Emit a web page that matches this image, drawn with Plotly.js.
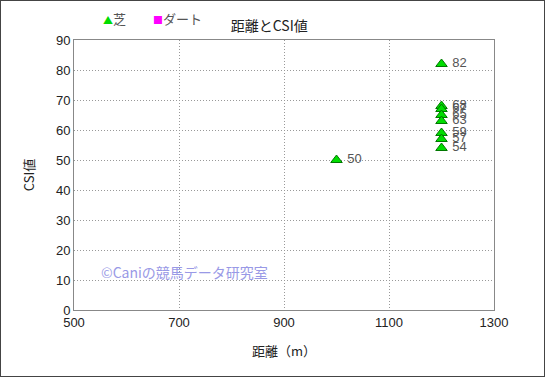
<!DOCTYPE html>
<html><head><meta charset="utf-8">
<script src="https://cdn.plot.ly/plotly-3.0.1.min.js"></script>
<style>html,body{margin:0;padding:0;background:#fff;}#c{width:545px;height:377px;box-sizing:border-box;border:1px solid #444;}</style>
</head><body><div id="c"></div>
<script>
const turfDist = [1000, 1200, 1200, 1200, 1200, 1200, 1200, 1200, 1200];
const turfCSI = [50, 82, 68, 67, 65, 63, 59, 57, 54];
const dirtDist = [null];
const dirtCSI = [null];
const xTicks = [500, 700, 900, 1100, 1300];
const yTicks = [0, 10, 20, 30, 40, 50, 60, 70, 80, 90];
const F = '"Liberation Sans", "Noto Sans CJK JP", sans-serif';
const FJ = '"Noto Sans CJK JP", "Noto Sans", sans-serif';
const traces = [
 {x: turfDist, y: turfCSI, type:'scatter', mode:'markers+text', name:'芝',
  text: turfCSI.map(v => ' ' + v), textposition:'middle right', textfont:{family:F,size:13,color:'#555'},
  marker:{symbol:'triangle-up', size:10, color:'#00dd00', line:{color:'#007700', width:1}}},
 {x: dirtDist, y: dirtCSI, type:'scatter', mode:'markers', name:'ダート',
  marker:{symbol:'square', size:8, color:'#ff00ff'}}
];
const layout = {
 width:543, height:375,
 margin:{l:73, r:50, t:39, b:66},
 paper_bgcolor:'#fff', plot_bgcolor:'#fff',
 font:{family:F, size:12, color:'#222'},
 title:{text:'距離とCSI値', x:0.494, xanchor:'center', xref:'container', y:0.934, yanchor:'middle', yref:'container', font:{family:FJ,size:14,color:'#222'}},
 showlegend:false,
 xaxis:{range:[500,1300], tickvals:xTicks, ticks:'', showgrid:true, gridcolor:'#999', griddash:'1px,2px', gridwidth:1,
  showline:true, linecolor:'#888', mirror:true, zeroline:false, tickfont:{family:F,size:13,color:'#222'},
  title:{text:'距離（m）', font:{family:FJ,size:13,color:'#222'}, standoff:18}},
 yaxis:{range:[0,90], tickvals:yTicks, ticks:'', showgrid:true, gridcolor:'#999', griddash:'1px,2px', gridwidth:1,
  showline:true, linecolor:'#888', mirror:true, zeroline:false, tickfont:{family:F,size:13,color:'#222'},
  title:{text:'CSI値', font:{family:FJ,size:13,color:'#222'}, standoff:18}},
 annotations:[
  {text:'<span style="color:#00dd00;font-size:10px">▲</span>芝', xref:'paper', yref:'paper', x:0.065, y:1.078, xanchor:'left', yanchor:'middle',
   showarrow:false, font:{family:FJ, size:13, color:'#555'}},
  {text:'<span style="color:#ff00ff;font-size:10px">■</span>ダート', xref:'paper', yref:'paper', x:0.183, y:1.078, xanchor:'left', yanchor:'middle',
   showarrow:false, font:{family:FJ, size:13, color:'#555'}},
  {text:'©Caniの競馬データ研究室', xref:'paper', yref:'paper', x:0.06, y:0.14, xanchor:'left', yanchor:'middle',
  showarrow:false, font:{family:FJ, size:14, color:'#9999e6'}}]
};
Plotly.newPlot('c', traces, layout, {displayModeBar:false, staticPlot:true});
</script></body></html>
